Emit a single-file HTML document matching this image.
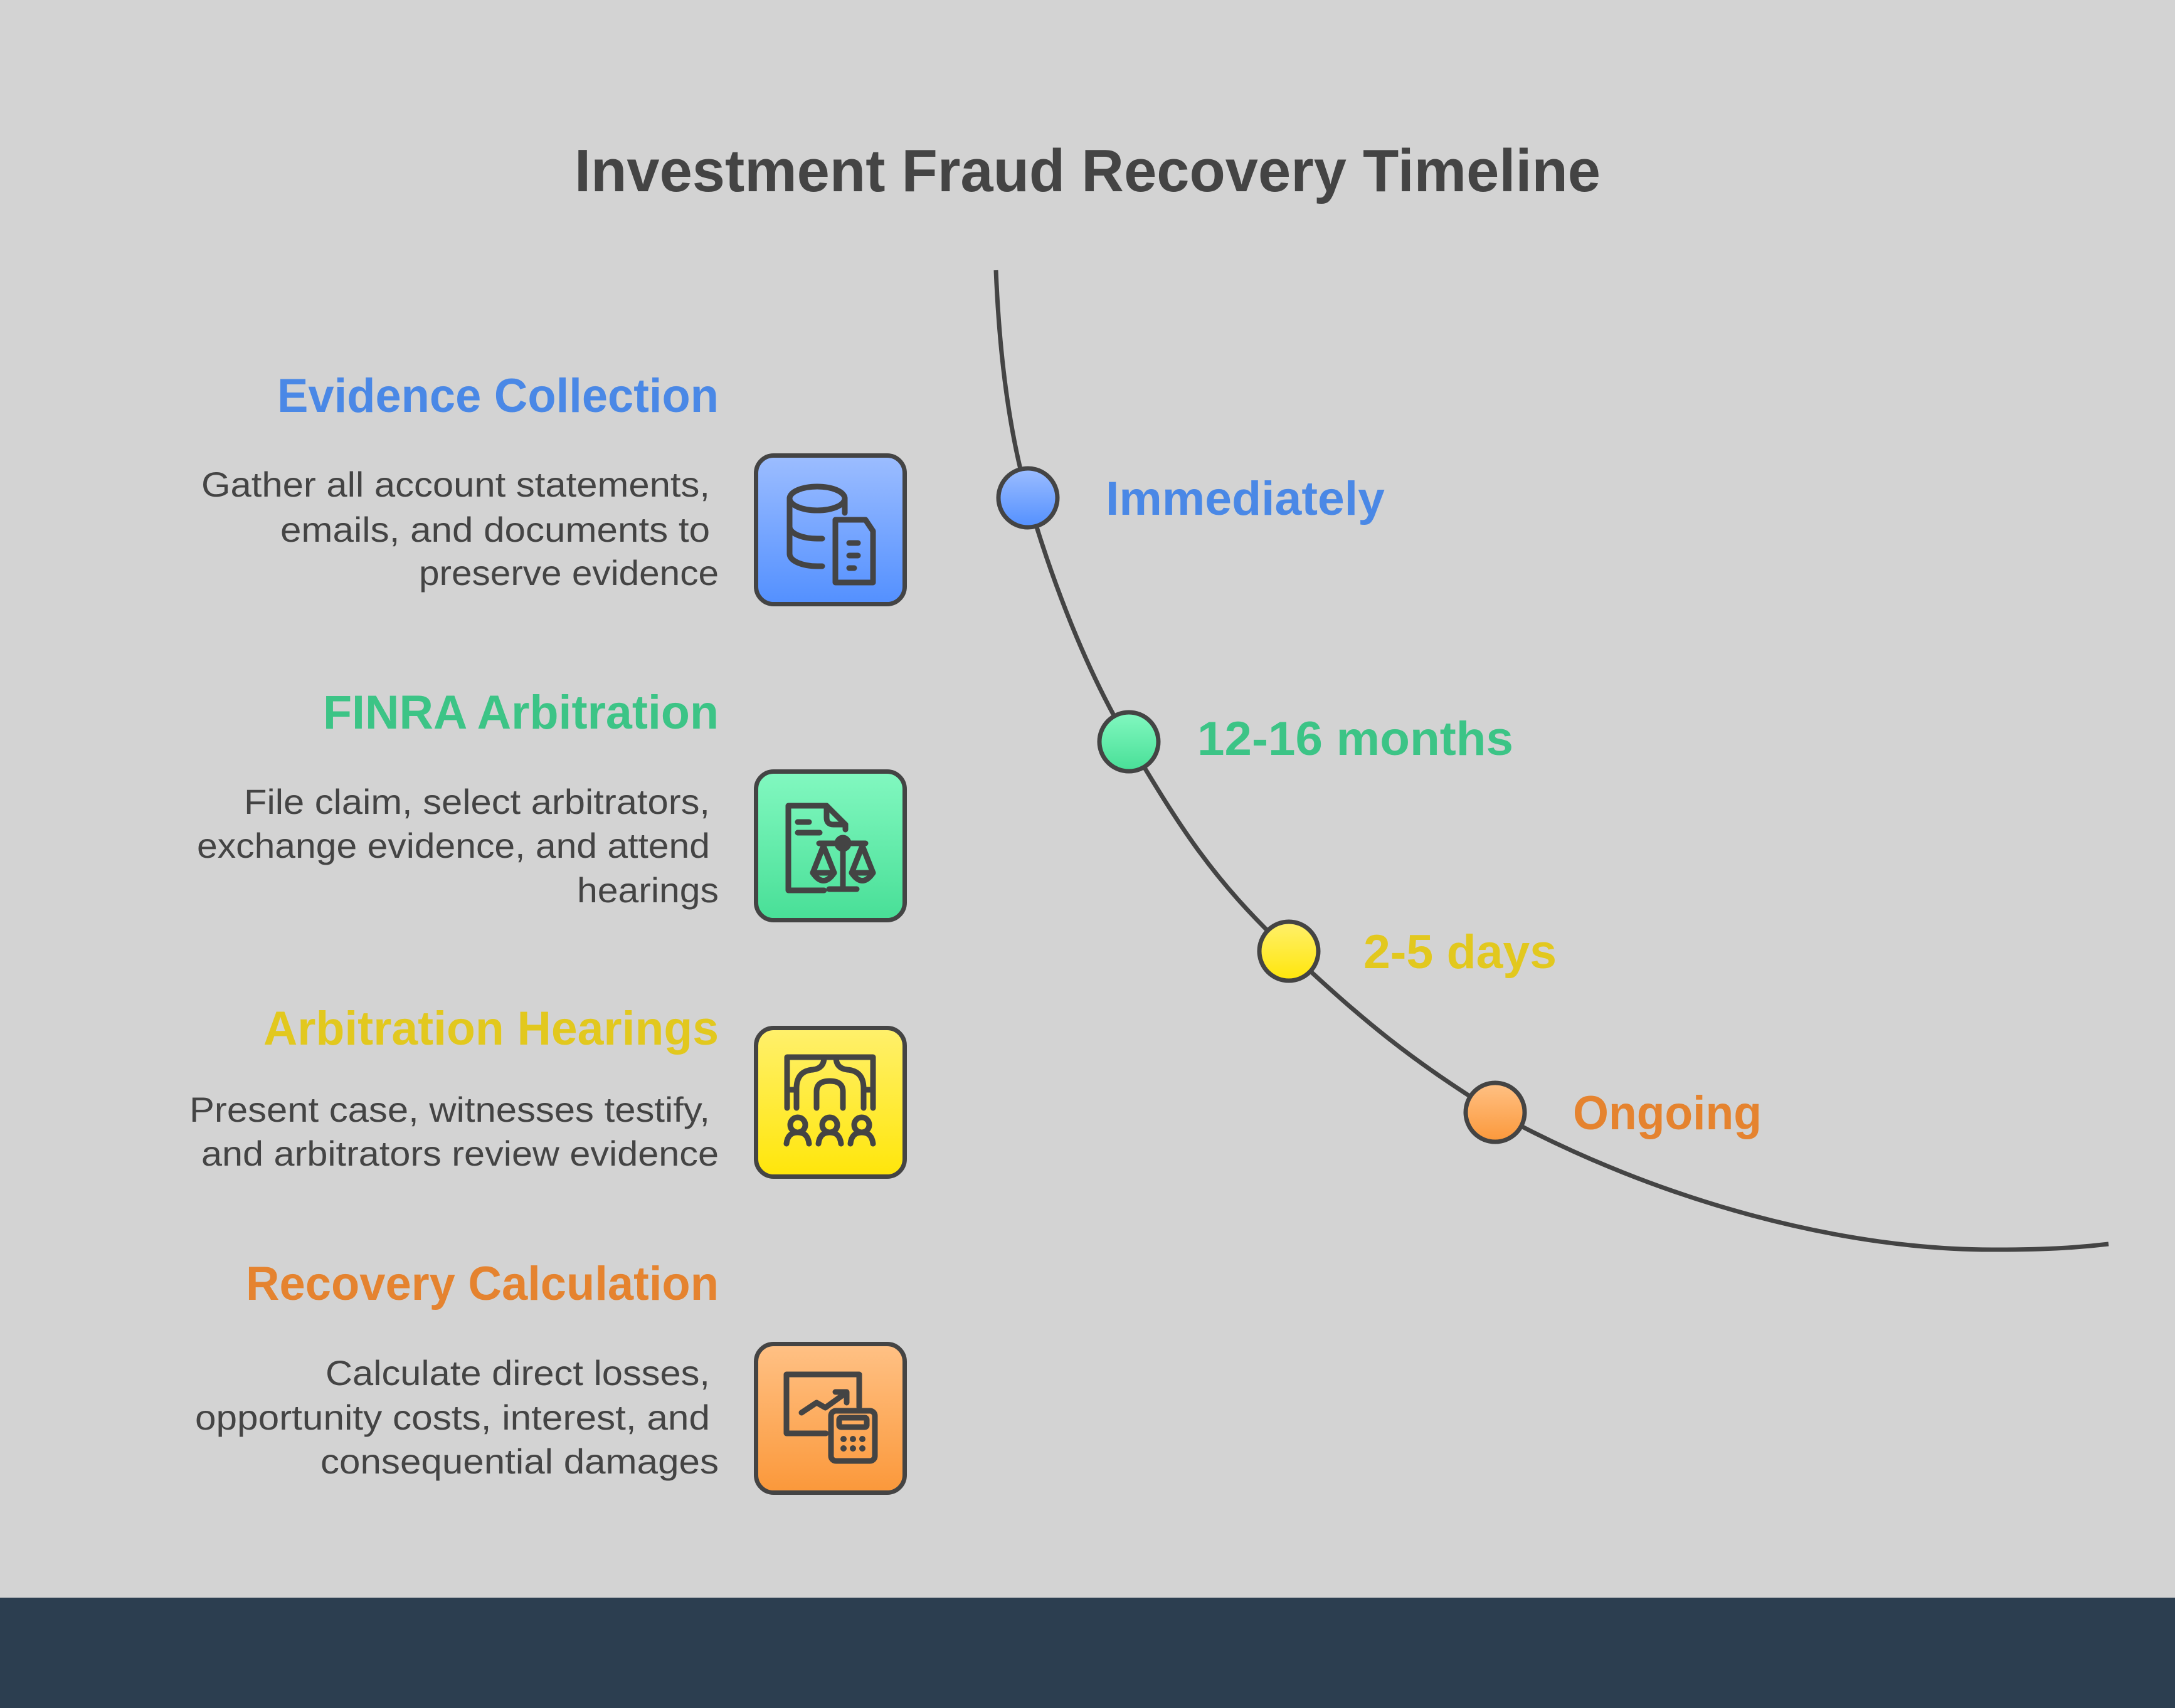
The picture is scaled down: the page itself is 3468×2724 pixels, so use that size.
<!DOCTYPE html>
<html><head><meta charset="utf-8"><style>
html,body{margin:0;padding:0;background:#d3d3d3}
svg{display:block}
text{font-family:"Liberation Sans",sans-serif}
</style></head><body>
<svg width="3468" height="2724" viewBox="0 0 3468 2724" xmlns="http://www.w3.org/2000/svg">
<defs>
<linearGradient id="gb" x1="0" y1="0" x2="0" y2="1"><stop offset="0" stop-color="#9cbdff"/><stop offset="1" stop-color="#5390ff"/></linearGradient>
<linearGradient id="gg" x1="0" y1="0" x2="0" y2="1"><stop offset="0" stop-color="#82f8c0"/><stop offset="1" stop-color="#48df97"/></linearGradient>
<linearGradient id="gy" x1="0" y1="0" x2="0" y2="1"><stop offset="0" stop-color="#fff06c"/><stop offset="1" stop-color="#ffe60a"/></linearGradient>
<linearGradient id="go" x1="0" y1="0" x2="0" y2="1"><stop offset="0" stop-color="#ffc185"/><stop offset="1" stop-color="#fb983a"/></linearGradient>
</defs>
<rect width="3468" height="2724" fill="#d3d3d3"/>
<rect x="0" y="2548" width="3468" height="176" fill="#2c3e50"/>

<text x="1734" y="305" text-anchor="middle" font-size="96" font-weight="bold" fill="#444" textLength="1636" lengthAdjust="spacingAndGlyphs">Investment Fraud Recovery Timeline</text>

<path d="M1588 431 C1594 580 1612 700 1639 794 S1720 1050 1800 1183 S1930 1400 2055 1517 S2250 1690 2384 1774 C2650 1920 2950 1995 3185 1993 C3270 1993 3320 1989 3362 1984" fill="none" stroke="#444" stroke-width="7"/>

<circle cx="1639" cy="794" r="47" fill="url(#gb)" stroke="#444" stroke-width="7"/>
<circle cx="1800" cy="1183" r="47" fill="url(#gg)" stroke="#444" stroke-width="7"/>
<circle cx="2055" cy="1517" r="47" fill="url(#gy)" stroke="#444" stroke-width="7"/>
<circle cx="2384" cy="1774" r="47" fill="url(#go)" stroke="#444" stroke-width="7"/>

<g font-size="76" font-weight="bold">
<text x="1763" y="821" fill="#4a88e6" textLength="445" lengthAdjust="spacingAndGlyphs">Immediately</text>
<text x="1909" y="1204" fill="#3cc486" textLength="504" lengthAdjust="spacingAndGlyphs">12-16 months</text>
<text x="2174" y="1544" fill="#e2c81e" textLength="308" lengthAdjust="spacingAndGlyphs">2-5 days</text>
<text x="2508" y="1801" fill="#e5832f" textLength="301" lengthAdjust="spacingAndGlyphs">Ongoing</text>
</g>

<g font-size="76" font-weight="bold" text-anchor="end">
<text x="1146" y="657" fill="#4a88e6" textLength="704" lengthAdjust="spacingAndGlyphs">Evidence Collection</text>
<text x="1146" y="1162" fill="#3cc486" textLength="631" lengthAdjust="spacingAndGlyphs">FINRA Arbitration</text>
<text x="1146" y="1666" fill="#e2c81e" textLength="726" lengthAdjust="spacingAndGlyphs">Arbitration Hearings</text>
<text x="1146" y="2073" fill="#e5832f" textLength="754" lengthAdjust="spacingAndGlyphs">Recovery Calculation</text>
</g>

<g font-size="56" fill="#444" text-anchor="end">
<text x="1132" y="792" textLength="811" lengthAdjust="spacingAndGlyphs">Gather all account statements,</text>
<text x="1132" y="864" textLength="685" lengthAdjust="spacingAndGlyphs">emails, and documents to</text>
<text x="1146" y="933" textLength="478" lengthAdjust="spacingAndGlyphs">preserve evidence</text>
<text x="1132" y="1298" textLength="743" lengthAdjust="spacingAndGlyphs">File claim, select arbitrators,</text>
<text x="1132" y="1368" textLength="818" lengthAdjust="spacingAndGlyphs">exchange evidence, and attend</text>
<text x="1146" y="1439" textLength="226" lengthAdjust="spacingAndGlyphs">hearings</text>
<text x="1132" y="1789" textLength="830" lengthAdjust="spacingAndGlyphs">Present case, witnesses testify,</text>
<text x="1146" y="1859" textLength="825" lengthAdjust="spacingAndGlyphs">and arbitrators review evidence</text>
<text x="1132" y="2209" textLength="613" lengthAdjust="spacingAndGlyphs">Calculate direct losses,</text>
<text x="1132" y="2280" textLength="821" lengthAdjust="spacingAndGlyphs">opportunity costs, interest, and</text>
<text x="1146" y="2350" textLength="635" lengthAdjust="spacingAndGlyphs">consequential damages</text>
</g>

<!-- Box 1 -->
<g transform="translate(1202,723)">
<rect x="3.5" y="3.5" width="237" height="237" rx="28" fill="url(#gb)" stroke="#444" stroke-width="7"/>
<g fill="none" stroke="#444" stroke-width="9" stroke-linecap="round" stroke-linejoin="round">
<ellipse cx="101" cy="72" rx="44" ry="19"/>
<path d="M57 72 V160 C57 172 78 180 101 180 H109"/>
<path d="M57 117 C57 128 78 136 101 136 H109"/>
<path d="M145 72 V95"/>
<path d="M130 114 V206 H190 V124 L178 106 H130 Z"/>
<path d="M152 143 H166 M152 163 H166 M152 183 H160"/>
</g>
</g>

<!-- Box 2 -->
<g transform="translate(1202,1227)">
<rect x="3.5" y="3.5" width="237" height="237" rx="28" fill="url(#gg)" stroke="#444" stroke-width="7"/>
<g fill="none" stroke="#444" stroke-width="9" stroke-linecap="round" stroke-linejoin="round">
<path d="M112 193 H55 V58 H116 L146 88 V96"/>
<path d="M116 58 V77 Q116 88 127 88 H146"/>
<path d="M70 84 H88 M70 101 H105"/>
<path d="M104 118 H178 M142 125 V191 M120 191 H164"/>
<circle cx="142" cy="118" r="9"/>
<path d="M111 122 L94 165 H128 Z M173 122 L156 165 H190 Z"/>
<path d="M94 165 Q111 190 128 165 M156 165 Q173 190 190 165"/>
</g>
</g>

<!-- Box 3 -->
<g transform="translate(1202,1636)">
<rect x="3.5" y="3.5" width="237" height="237" rx="28" fill="url(#gy)" stroke="#444" stroke-width="7"/>
<g fill="none" stroke="#444" stroke-width="9" stroke-linecap="round" stroke-linejoin="round">
<path d="M53 131 V50 H190 V131"/>
<path d="M53 102 H68 M175 102 H190"/>
<path d="M68 131 V100 Q68 72 94 70 Q112 68 112 50"/>
<path d="M175 131 V100 Q175 72 149 70 Q131 68 131 50"/>
<path d="M100 131 V105 Q100 88 121 88 Q142 88 142 105 V131"/>
<circle cx="70" cy="158" r="12"/><path d="M52 188 Q54 170 70 170 Q86 170 88 188"/>
<circle cx="121" cy="158" r="12"/><path d="M103 188 Q105 170 121 170 Q137 170 139 188"/>
<circle cx="172" cy="158" r="12"/><path d="M154 188 Q156 170 172 170 Q188 170 190 188"/>
</g>
</g>

<!-- Box 4 -->
<g transform="translate(1202,2140)">
<rect x="3.5" y="3.5" width="237" height="237" rx="28" fill="url(#go)" stroke="#444" stroke-width="7"/>
<g fill="none" stroke="#444" stroke-width="9" stroke-linecap="round" stroke-linejoin="round">
<path d="M115 146 H52 V52 H168 V104"/>
<path d="M76 113 L100 97 L114 105 L146 82 M130 80 H148 V97"/>
<rect x="123" y="110" width="70" height="80" rx="8"/>
<rect x="136" y="121" width="44" height="15" rx="3"/>
</g>
<g fill="#444">
<circle cx="143" cy="155" r="5"/><circle cx="158" cy="155" r="5"/><circle cx="173" cy="155" r="5"/>
<circle cx="143" cy="170" r="5"/><circle cx="158" cy="170" r="5"/><circle cx="173" cy="170" r="5"/>
</g>
</g>
</svg>
</body></html>
